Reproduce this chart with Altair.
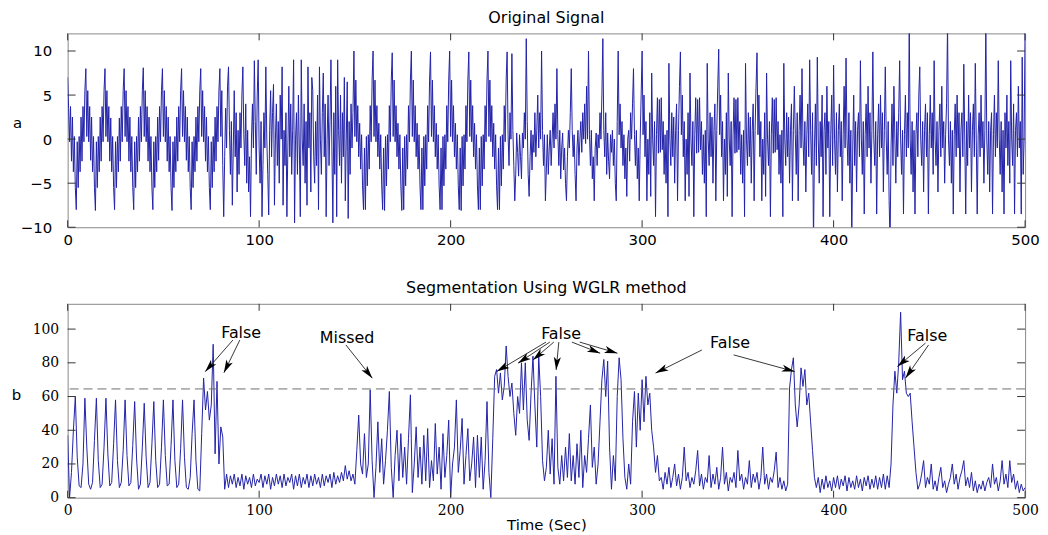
import math
import altair as alt
import pandas as pd

# ---------------- data: top panel "Original Signal" (0.5 s samples, one row = 10 s) ----------------
SIG_A_0_80 = [
    [7, 3.5, -0.3, 3.7, -2.5, 2.5, -3.7, 0.3, -5.5, -8, -0.3, -5.5, 0.3, -3.7, 2.5, -2.5, 3.7, -0.3, 5.5, 8],
    [0.3, 5.5, -0.3, 3.7, -2.4, 2.5, -3.7, 0.3, -5.5, -8.1, -0.3, -5.5, 0.3, -3.7, 2.5, -2.5, 3.7, -0.3, 5.5, 8],
    [0.3, 5.5, -0.3, 3.7, -2.5, 2.4, -3.7, 0.3, -5.5, -8, -0.3, -5.5, 0.3, -3.7, 2.4, -2.5, 3.7, -0.3, 5.5, 8],
    [0.3, 5.5, -0.3, 3.7, -2.5, 2.5, -3.7, 0.3, -5.5, -8, -0.3, -5.5, 0.3, -3.7, 2.5, -2.5, 3.7, -0.3, 5.5, 8.1],
    [0.3, 5.5, -0.3, 3.7, -2.5, 2.5, -3.7, 0.3, -5.5, -8, -0.3, -5.5, 0.3, -3.7, 2.5, -2.4, 3.7, -0.3, 5.5, 8],
    [0.3, 5.5, -0.3, 3.7, -2.5, 2.5, -3.7, 0.3, -5.5, -8.1, -0.3, -5.5, 0.3, -3.7, 2.5, -2.5, 3.7, -0.3, 5.5, 8],
    [0.3, 5.5, -0.3, 3.7, -2.4, 2.5, -3.7, 0.3, -5.5, -8, -0.3, -5.5, 0.3, -3.7, 2.5, -2.5, 3.7, -0.3, 5.5, 8],
    [0.3, 5.5, -0.3, 3.7, -2.5, 2.5, -3.7, 0.3, -5.5, -8, -0.3, -5.5, 0.3, -3.7, 2.5, -2.5, 3.7, -0.3, 5.5, 8],
]
SIG_A_80_150 = [
    [0.3, 5.5, -3, -8.8, -2, 3.5, -1, 6, 8.2, 1, -4, 2, -7.5, -1, 5.5, -2, 3, -6, 1, -4],
    [3, -1, 5, 8.2, 0.5, -3, 4, -5, 1, -6, -2, -8.8, 0, 4, -1, 8.9, 2, -4, 5, 9],
    [-1, -5, 2, -8.8, -3, 3, -1, 8.2, 0, -4, -8.6, 1, 5.5, -2, 3, 6.2, -7.5, 0, 4, -3],
    [2, -5, 5, 0, 8.2, -7.5, 1, -3, 3, -8.8, -1, 6, -2, 4, -4, 1, 9, -9.5, 0, 3],
    [-4, 5, -1, -8.8, 9, 0, -3, 4, -5, 2, -7.5, 8.2, -1, 3, -6, 7, 5.5, -2, -5, 2],
    [-3, 5, -8, 8.2, 0, -4, 3, 7.5, -2, 4, -8.8, 0, 5, -3, 2, 9, -1, -9.5, 3, -4],
    [6, -8.8, 9, 1, -3, 5, -5, 3, -2, 7, -7, 0, 6.5, -9, 2, -4, 4, -1, 3, 10],
]
SIG_A_150_230 = [
    [0.3, 6.7, -0.3, 3.8, -2, 1.8, -3.4, 0.5, -5.3, -8, -1, -8, 0.3, -5.3, 0.5, -3.4, 3.8, -0.3, 6.7, 10],
    [0.3, 6.7, -0.3, 3.8, -2, 1.8, -3.4, 0.5, -5.3, -8, -1, -8.1, 0.3, -5.3, 0.5, -3.4, 3.8, -0.3, 6.7, 9.8],
    [0.3, 6.7, -0.3, 3.8, -2, 1.8, -3.4, 0.5, -5.3, -8.1, -1, -8, 0.3, -5.3, 0.5, -3.4, 3.8, -0.3, 6.7, 10],
    [0.3, 6.7, -0.3, 3.8, -2, 1.8, -3.4, 0.5, -5.3, -8, -1, -8, 0.3, -5.3, 0.5, -3.4, 3.8, -0.3, 6.7, 9.9],
    [0.3, 6.7, -0.3, 3.8, -2, 1.8, -3.4, 0.5, -5.3, -8, -1, -8, 0.3, -5.3, 0.5, -3.4, 3.8, -0.3, 6.7, 10],
    [0.3, 6.7, -0.3, 3.8, -2, 1.8, -3.4, 0.5, -5.3, -8, -1, -8.1, 0.3, -5.3, 0.5, -3.4, 3.8, -0.3, 6.7, 9.9],
    [0.3, 6.7, -0.3, 3.8, -2, 1.8, -3.4, 0.5, -5.3, -8, -1, -8, 0.3, -5.3, 0.5, -3.4, 3.8, -0.3, 6.7, 10],
    [0.3, 6.7, -0.3, 3.8, -2, 1.8, -3.4, 0.5, -5.3, -8, -1, -8, 0.3, -5.3, 0.5, -3.4, 3.8, -0.3, 6.7, 9.9],
]
SIG_A_230_300 = [
    [0.5, -3, 3, 0, 9.7, 1, -3, -7, -4, 0.7, -1.5, -4.2, 0.5, -2, -4.5, 0.7, -1, 3, 0, 11.4],
    [2, -4, -6.5, -2, 1, -3.5, 0.5, -1.5, 3, -2, 1, 5, -1, 3, 0, 10, 1, -3, 0.5, -7],
    [-3.5, 0.5, -4, -1, 1, -3, 0, 3, -1, 4, 0, 8, 0.5, -3, 1, -4.5, -1, 0.7, -3.5, -1],
    [-5, -7, -2, 1, -1, 3, 8, 1, -2, 0.5, -4, -7, -1, 1, -3, 0, 2, -1.5, 3, 0],
    [4, -0.5, 6, 0, 10, 0.5, -3, 1, -4.5, -2, -7, -1, 0.7, -3, 0.5, -1, 3, 0, 5, 11.4],
    [1, -2, 3, -4, 0.7, -2.5, -4.5, 0.5, -1.5, 1, -3, 0, -5, -7, 2, 10, 0.5, 4, -1, 2],
    [-3, 0.5, -4.5, -1, -6.5, 0, 1, -2.5, 3, 0, 4, 8, 0.5, -3, 1, -4.5, -1, -7, 0, 5],
]
SIG_A_300_380 = [
    [10, 0.5, 5, -2, 2, -7, 0, -4, 3, -6.5, 7.5, 0, -3, 2, -8.8, 0.5, 4.7, -1.6, 4.5, -1.5],
    [4.7, -1.2, 2, -4, 0.5, -5, 1, -8.8, 8.6, 0, -3, 3, -2, 2.5, -5, 1, 4, -7, 1, 6],
    [9.9, 0.5, 5, -2, 2, -7, 0, -4, 3, -6.5, 7.5, 0, -3, 2, -8.8, 0.5, 4.7, -1.6, 4.5, -1.5],
    [4.7, -1.2, 2, -4, 0.5, -5, 1, -8.8, 8.6, 0, -3, 3, -2, 2.5, -5, 1, 4, -7, 1, 6],
    [10.2, 0.5, 5, -2, 2, -7, 0, -4, 3, -6.5, 7.5, 0, -3, 2, -8.8, 0.5, 4.7, -1.6, 4.5, -1.5],
    [4.7, -1.2, 2, -4, 0.5, -5, 1, -8.8, 8.6, 0, -3, 3, -2, 2.5, -5, 1, 4, -7, 1, 6],
    [9.8, 0.5, 5, -2, 2, -7, 0, -4, 3, -6.5, 7.5, 0, -3, 2, -8.8, 0.5, 4.7, -1.6, 4.5, -1.5],
    [4.7, -1.2, 2, -4, 0.5, -5, 1, -8.8, 8.6, 0, -3, 3, -2, 2.5, -5, 1, 4, -7, 1, 6],
]
SIG_A_380_500 = [
    [0.5, -4, 3, -7, 1, 5, -1, 8, 0, -3, 2, -6, 0.5, 4, -2, 9, 1, -4, 3, -12],
    [-1, 4, -3, 9.3, 0, -5, 2, -2, 5, -8.8, 1, 3, -4, 6, -1, 2, -8.8, 0.5, 5, -3],
    [8.4, 0, -4, 3, -6, 1, 4, -2, 2, -7, 0.5, 6, -1, 9.2, 0, -3, 3, -5, 1, -12],
    [-1, 5, -3, 2, -6, 1, 3, -2, 8.9, 0, -4, 2, -8.5, 0.5, 4, -2, 6, -1, 3, -5],
    [1, 9.9, 0, -3, 2, -8.5, 0.5, 4, -2, 5, -1, 3, -6, 1, 8.2, 0, -4, 2, -7, -12],
    [-1, 4, -3, 6, 0, -5, 2, -2, 3, 8.9, 0, -4, 1, -8.5, 0.5, 5, -2, 3, -1, 13],
    [0, -4, 2, -6, 1, -8.5, 0.5, 3, -2, 5, 8.2, 0, -3, 2, -6, 1, 4, -2, 3, -8.5],
    [0.5, 5, -1, 3, -4, 8.9, 0, -3, 2, -6, 1, 4, -2, 6, -1, 2, -5, 0.5, 4, 13],
    [0, -3, 2, -5, 1, -8.5, 0.5, 4, -2, 5, -1, 3, -6, 1, 3, -2, 8.5, 0, -8.5, 2],
    [-3, 5, -1, 3, -6, 1, 4, -2, 8.6, 0, -8.5, 0.5, 3, -2, 5, -1, 2, -5, 1, 13],
    [0, -4, 2, -6, 1, 3, -8.5, 0.5, 5, -2, 3, -1, 8.9, 0, -4, 2, -6, 1, -8.5, 3],
    [-1, 5, -3, 2, -5, 8.9, 0, -3, 4, -8.5, 1, 3, -2, 6, -1, 2, -8.5, 9.3, -4, 0],
]
SIG_A_END = 13

# ---------------- data: bottom panel "Segmentation Using WGLR method" (1 s samples, one row = 10 s) ----------------
SIG_B_0_100 = [
    [37, 0, 15, 40, 60, 24, 7, 6, 20, 59],
    [30, 8, 5, 9, 34, 59, 22, 6, 8, 30],
    [59, 26, 7, 9, 32, 58, 22, 6, 9, 28],
    [58, 25, 7, 9, 31, 57, 23, 5, 8, 30],
    [56, 24, 6, 9, 32, 57, 22, 6, 8, 30],
    [58, 25, 7, 8, 31, 58, 22, 6, 8, 29],
    [58, 24, 6, 5, 12, 38, 58, 22, 5, 4],
    [38, 71, 52, 63, 46, 55, 91, 26, 69, 20],
    [42, 36, 5, 14, 6, 13, 8, 14, 6, 12],
    [7, 14, 5, 13, 8, 12, 6, 14, 7, 11],
]
SIG_B_100_200 = [
    [9, 14, 6, 13, 8, 14, 5, 12, 7, 14],
    [8, 13, 6, 14, 7, 12, 9, 14, 5, 13],
    [7, 14, 6, 12, 8, 14, 6, 13, 7, 14],
    [8, 12, 6, 14, 7, 13, 9, 14, 6, 15],
    [8, 13, 9, 15, 10, 19, 11, 16, 10, 14],
    [8, 28, 49, 20, 14, 38, 12, 20, 64, 22],
    [0, 18, 45, 15, 35, 8, 22, 40, 63, 18],
    [0, 25, 40, 10, 38, 12, 30, 8, 35, 61],
    [3, 20, 42, 12, 30, 8, 37, 10, 41, 6],
    [22, 10, 44, 14, 30, 5, 38, 12, 25, 46],
]
SIG_B_200_300 = [
    [0, 20, 30, 58, 15, 28, 47, 8, 25, 41],
    [10, 20, 36, 6, 37, 12, 36, 5, 22, 57],
    [15, 0, 35, 72, 76, 62, 74, 58, 66, 90],
    [72, 60, 68, 50, 37, 60, 50, 80, 52, 80],
    [46, 34, 62, 84, 55, 30, 84, 60, 22, 10],
    [18, 40, 14, 35, 8, 72, 18, 8, 25, 10],
    [30, 12, 38, 10, 25, 8, 32, 12, 40, 6],
    [25, 15, 35, 55, 18, 30, 8, 20, 45, 70],
    [82, 60, 81, 30, 5, 25, 10, 60, 83, 70],
    [35, 12, 5, 20, 8, 45, 63, 30, 62, 40],
]
SIG_B_300_400 = [
    [70, 45, 72, 55, 62, 40, 30, 15, 25, 10],
    [12, 5, 15, 8, 18, 6, 12, 20, 7, 14],
    [5, 12, 30, 10, 15, 6, 12, 8, 16, 28],
    [7, 14, 5, 12, 9, 25, 6, 14, 8, 18],
    [5, 12, 30, 8, 15, 4, 12, 9, 15, 6],
    [28, 10, 14, 5, 12, 8, 22, 6, 14, 9],
    [15, 5, 12, 30, 8, 14, 5, 12, 9, 16],
    [27, 6, 12, 5, 10, 4, 8, 65, 76, 83],
    [55, 42, 55, 77, 66, 76, 55, 62, 45, 28],
    [12, 6, 12, 3, 11, 5, 13, 6, 10, 4],
]
SIG_B_400_500 = [
    [12, 6, 13, 5, 11, 7, 13, 4, 12, 6],
    [10, 5, 13, 6, 11, 4, 12, 7, 13, 5],
    [11, 6, 13, 5, 12, 6, 14, 5, 13, 6],
    [20, 55, 75, 62, 80, 110, 70, 75, 62, 60],
    [62, 45, 30, 15, 5, 8, 14, 22, 6, 12],
    [8, 20, 5, 10, 4, 12, 18, 6, 10, 3],
    [8, 12, 20, 8, 14, 5, 12, 16, 22, 7],
    [12, 6, 15, 4, 10, 3, 8, 5, 10, 4],
    [9, 12, 6, 20, 8, 12, 4, 10, 22, 8],
    [14, 6, 22, 9, 14, 5, 10, 3, 8, 4],
]
SIG_B_END = 6

THRESHOLD = 64.5
X_TICKS = [0, 100, 200, 300, 400, 500]
A_TICKS = [-10, -5, 0, 5, 10]
B_TICKS = [0, 20, 40, 60, 80, 100]

# annotation texts (t, value, label)
LABEL_T = [90.6, 145.9, 257.7, 345.9, 448.9]
LABEL_V = [97.9, 95.0, 96.9, 92.0, 95.8]
LABEL_TXT = ["False", "Missed", "False", "False", "False"]
# arrows: tail (t, v) -> head (t, v)
ARR_T0 = [86.3, 89.9, 145.3, 249.8, 251.8, 253.9, 256.5, 263.3, 267.4, 331.2, 347.8, 448.0, 449.6]
ARR_V0 = [93.5, 93.5, 90.6, 92.3, 92.3, 92.3, 92.3, 92.3, 92.3, 87.6, 84.7, 91.7, 90.6]
ARR_T1 = [71.8, 81.6, 159.1, 224.0, 235.2, 243.0, 255.1, 278.1, 287.1, 307.0, 379.7, 433.3, 437.6]
ARR_V1 = [74.7, 74.1, 70.9, 74.8, 79.8, 81.7, 75.8, 85.7, 85.7, 73.9, 74.8, 77.8, 71.0]

# ---------------- build tables ----------------
def rows_to_df(blocks, row_span, dt, end_value):
    ts, vs = [], []
    r = 0
    for block in blocks:
        for row in block:
            for j, v in enumerate(row):
                ts.append(r * row_span + j * dt)
                vs.append(v)
            r += 1
    ts.append(r * row_span)
    vs.append(end_value)
    return pd.DataFrame({"t": ts, "v": vs})

df_a = rows_to_df([SIG_A_0_80, SIG_A_80_150, SIG_A_150_230, SIG_A_230_300, SIG_A_300_380, SIG_A_380_500], 10, 0.5, SIG_A_END)
df_b = rows_to_df([SIG_B_0_100, SIG_B_100_200, SIG_B_200_300, SIG_B_300_400, SIG_B_400_500], 10, 1, SIG_B_END)

W, H = 963, 195
B_MAX = 115
A_DOM = [-10, 12]
PX_T = W / 500.0
PX_V = H / float(B_MAX)

df_arr = pd.DataFrame({"t": ARR_T0, "v": ARR_V0, "t1": ARR_T1, "v1": ARR_V1})
df_arr["ang"] = [
    math.degrees(math.atan2(-(r.v1 - r.v) * PX_V, (r.t1 - r.t) * PX_T)) % 360
    for r in df_arr.itertuples()
]
df_head = pd.DataFrame({"t": ARR_T1, "v": ARR_V1, "ang": df_arr["ang"]})
df_lab = pd.DataFrame({"t": LABEL_T, "v": LABEL_V, "txt": LABEL_TXT})

LINE_COLOR = "#2222a8"
TICK_COLOR = "#333333"
SANS = "DejaVu Sans"
SERIF = "DejaVu Serif"
XS = alt.Scale(domain=[0, 500], nice=False, zero=False)

# shared axis definitions (identical in every layer of a panel so they merge)
AX_X_TOP = alt.Axis(values=X_TICKS, ticks=False, domain=False, grid=False, labelFlush=False,
                    labelFont=SANS, labelFontSize=15, labelPadding=5, labelColor="black")
AX_Y_TOP = alt.Axis(values=A_TICKS, ticks=False, domain=False, grid=False,
                    labelFont=SANS, labelFontSize=15, labelPadding=16, labelColor="black",
                    titleAngle=0, titleX=-51, titleY=90, titleAlign="center",
                    titleBaseline="middle", titleFont=SANS, titleFontSize=15,
                    titleFontWeight="normal", titleColor="black")
AX_X_BOT = alt.Axis(values=X_TICKS, ticks=False, domain=False, grid=False, labelFlush=False,
                    labelFont=SERIF, labelFontSize=14, labelPadding=6, labelColor="black",
                    titleFont=SANS, titleFontSize=15, titleFontWeight="normal",
                    titleColor="black", titlePadding=0)
AX_Y_BOT = alt.Axis(values=B_TICKS, ticks=False, domain=False, grid=False,
                    labelFont=SERIF, labelFontSize=14, labelPadding=9, labelColor="black",
                    titleAngle=0, titleX=-52, titleY=91, titleAlign="center",
                    titleBaseline="middle", titleFont=SANS, titleFontSize=15,
                    titleFontWeight="normal", titleColor="black")


def X(ax, title):
    return alt.X("t:Q", scale=XS, axis=ax, title=title)


def Y(ax, ys, title):
    return alt.Y("v:Q", scale=ys, axis=ax, title=title)


def tick_layers(ticks_y, ax_x, ax_y, ys, xtitle, ytitle):
    xt = pd.DataFrame({"t": X_TICKS})
    yt = pd.DataFrame({"v": ticks_y})
    bot = alt.Chart(xt).mark_rule(color=TICK_COLOR, strokeWidth=1).encode(
        x=X(ax_x, xtitle), y=alt.value(H), y2=alt.value(H - 7))
    top = alt.Chart(xt).mark_rule(color=TICK_COLOR, strokeWidth=1).encode(
        x=X(ax_x, xtitle), y=alt.value(0), y2=alt.value(7))
    left = alt.Chart(yt).mark_rule(color=TICK_COLOR, strokeWidth=1).encode(
        y=Y(ax_y, ys, ytitle), x=alt.value(0), x2=alt.value(8))
    right = alt.Chart(yt).mark_rule(color=TICK_COLOR, strokeWidth=1).encode(
        y=Y(ax_y, ys, ytitle), x=alt.value(W), x2=alt.value(W - 8))
    return [bot, top, left, right]


# ---------------- top panel ----------------
ys_a = alt.Scale(domain=A_DOM, nice=False, zero=False)
line_a = alt.Chart(df_a).mark_line(color=LINE_COLOR, strokeWidth=1, clip=True).encode(
    x=X(AX_X_TOP, None), y=Y(AX_Y_TOP, ys_a, "a"))
top = alt.layer(line_a, *tick_layers(A_TICKS, AX_X_TOP, AX_Y_TOP, ys_a, None, "a")).properties(
    width=W, height=H,
    title=alt.TitleParams("Original Signal", font=SANS, fontSize=16, fontWeight="normal",
                          color="black", offset=7, anchor="middle"),
)

# ---------------- bottom panel ----------------
ys_b = alt.Scale(domain=[0, B_MAX], nice=False, zero=False)
XT, YT = "Time (Sec)", "b"
line_b = alt.Chart(df_b).mark_line(color=LINE_COLOR, strokeWidth=1, clip=True).encode(
    x=X(AX_X_BOT, XT), y=Y(AX_Y_BOT, ys_b, YT))
thresh = alt.Chart(pd.DataFrame({"v": [THRESHOLD]})).mark_rule(
    color="#6e6e6e", strokeWidth=1, strokeDash=[9, 5]).encode(y=Y(AX_Y_BOT, ys_b, YT))
arrows = alt.Chart(df_arr).mark_rule(color="#222222", strokeWidth=0.9).encode(
    x=X(AX_X_BOT, XT), x2="t1:Q", y=Y(AX_Y_BOT, ys_b, YT), y2="v1:Q")
heads = alt.Chart(df_head).mark_point(
    shape="M0,0 L-2,-0.55 L-1.5,0 L-2,0.55 Z", filled=True, color="black",
    opacity=1, size=170, strokeWidth=0).encode(
    x=X(AX_X_BOT, XT), y=Y(AX_Y_BOT, ys_b, YT),
    angle=alt.Angle("ang:Q", scale=None))
labels = alt.Chart(df_lab).mark_text(font=SANS, fontSize=16, color="black",
                                     align="center", baseline="middle").encode(
    x=X(AX_X_BOT, XT), y=Y(AX_Y_BOT, ys_b, YT), text="txt:N")

bottom = alt.layer(line_b, thresh, *tick_layers(B_TICKS, AX_X_BOT, AX_Y_BOT, ys_b, XT, YT),
                   arrows, heads, labels).properties(
    width=W, height=H,
    title=alt.TitleParams("Segmentation Using WGLR method", font=SANS, fontSize=16,
                          fontWeight="normal", color="black", offset=7, anchor="middle"),
)

chart = alt.vconcat(top, bottom, spacing=32).properties(
    padding={"left": 2, "top": 0, "right": 0, "bottom": 0},
    background="white",
).configure_view(stroke="#888888", strokeWidth=1)

chart.save("out.html", embed_options={"renderer": "svg", "actions": False})
